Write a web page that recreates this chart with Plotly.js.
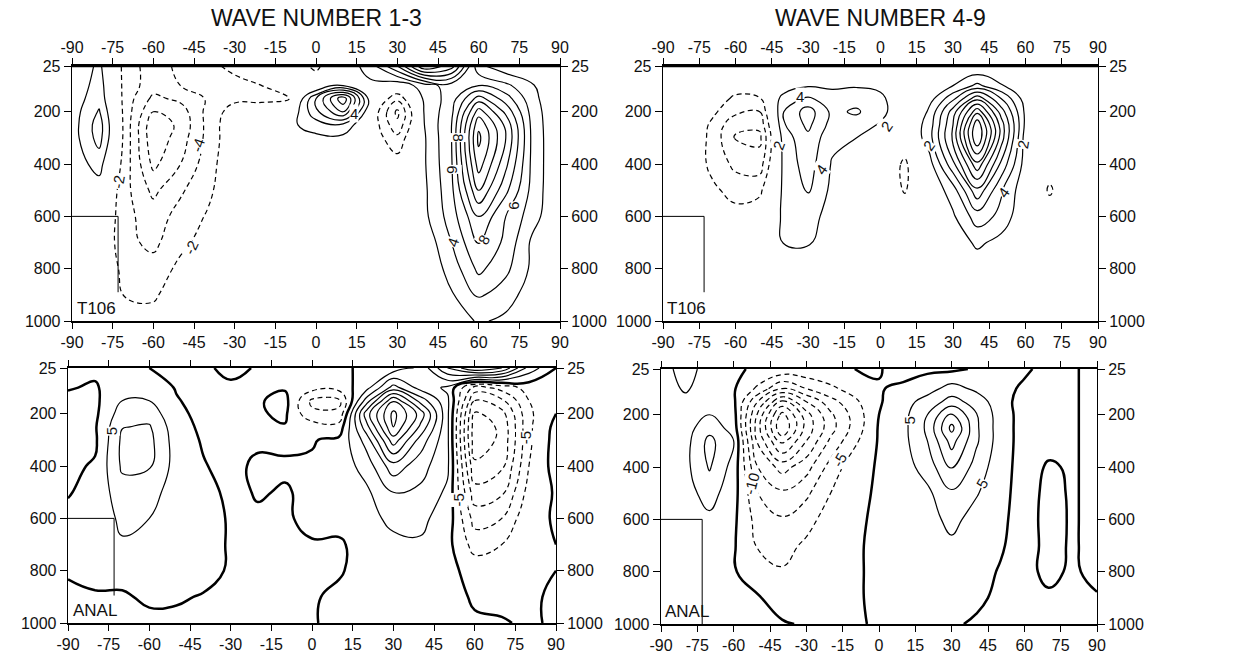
<!DOCTYPE html>
<html>
<head>
<meta charset="utf-8">
<script src="https://cdn.plot.ly/plotly-3.0.1.min.js"></script>
<style>
  html, body { margin: 0; padding: 0; background: #fff; }
  #chart { width: 1246px; height: 660px; }
</style>
</head>
<body>
<div id="chart"></div>
<script>
// ---------- data ----------
const lats = [-90,-80,-70,-60,-50,-40,-30,-20,-10,0,10,20,30,40,50,60,70,80,90];
const levels = [25,100,150,200,250,300,400,500,600,700,800,900,1000];
const latTickVals = [-90,-75,-60,-45,-30,-15,0,15,30,45,60,75,90];
const latTickText = ["-90","-75","-60","-45","-30","-15","0","15","30","45","60","75","90"];
const presTickVals = [25,200,400,600,800,1000];
const presTickText = ["25","200","400","600","800","1000"];
const panelTitles = ["WAVE NUMBER 1-3","WAVE NUMBER 4-9"];
const panelTags = ["T106","T106","ANAL","ANAL"];

// T106, wave number 1-3 (rows = levels, cols = lats)
const t106_wn13 = [
  [0, 2.5, -3, -5, -3.5, -2.5, -1.5, -0.5, -0.5, -2.5, 0.5, 3, 8, 16, 13, 2.5, 0.5, -1, 0],
  [0.3, 3, -3, -5, -4, -3.5, -2.6, -2.0, -1.5, -0.5, 2, 1.5, 0.5, 3, 5, 6, 4.5, 2.2, 0],
  [0.8, 3.3, -3, -6.5, -5.5, -3.8, -2.5, -2.4, -2.1, 6, 13.5, 1, -3.5, 2.4, 5, 11, 7, 2.6, 0],
  [1, 4.2, -3, -8, -7, -3.4, -1, -1, 0, 5.5, 10, 0, -6.5, 2.2, 5.5, 15, 9.5, 3, 0],
  [1, 5, -3, -9.5, -7.5, -3.4, -0.3, -0.2, 1.5, 3, 3.5, -0.3, -5.5, 2, 6, 17.5, 11.5, 3.2, 0],
  [1, 4.8, -3, -9.5, -7, -3.4, -0.3, 0, 0.8, 1.5, 1.5, -0.5, -3.5, 1.8, 6, 18.5, 12, 3.3, 0],
  [0.8, 2.8, -3.2, -8.5, -6, -2.9, -0.3, 0, 0, 0.3, 0, -0.3, -1, 1.8, 5.8, 17, 10.5, 3.3, 0],
  [0.3, 1, -3.5, -6.5, -4.3, -2.5, -0.2, 0, 0, 0, 0, 0, -0.3, 1.6, 5.5, 14, 8.5, 3.2, 0],
  [0, 0.3, -3.5, -5, -3.3, -1.8, -0.1, 0, 0, 0, 0, 0, 0, 1.5, 5, 10, 6, 2.8, 0],
  [0, 0, -3.5, -4.5, -2.5, -1.2, 0, 0, 0, 0, 0, 0, 0, 0.5, 4, 8.2, 5.5, 1.5, 0],
  [0, 0, -2.8, -3.2, -1.5, -0.7, 0, 0, 0, 0, 0, 0, 0, 0.3, 2.8, 6.5, 4.5, 1.5, 0],
  [0, 0, -2.2, -2.3, -0.8, -0.3, 0, 0, 0, 0, 0, 0, 0, 0.2, 1.8, 4.3, 3, 0.8, 0],
  [0, 0, -1, -1.2, -0.3, 0, 0, 0, 0, 0, 0, 0, 0, 0, 0.5, 2.3, 1.5, 0, 0]
];

// T106, wave number 4-9
const t106_wn49 = [
  [0, 0, 0, 0, 0, 0, 0, 0, 0, 0, 0, 0, 0, 0, 0, 0, 0, 0, 0],
  [0, 0, -0.3, -0.8, -0.5, 0.5, 1.8, 1.6, 1.8, 1.5, 0, 0.3, 2, 4.5, 2.2, 0, 0, 0, 0],
  [0, 0, -0.5, -2.5, -2.2, 3, 4.3, 3, 3.2, 2.5, 0.2, 1, 5.5, 11.5, 6, 1, 0, 0, 0],
  [0, 0, -1.5, -3.5, -4, 4, 7, 3.5, 4.3, 2.6, 0.5, 2.2, 9, 17.5, 9, 1.5, 0, 0, 0],
  [0, 0, -2.3, -5.5, -5.5, 3.8, 6.5, 3.2, 3, 1.8, 0, 2.8, 10, 21.5, 11, 1.5, 0, 0, 0],
  [0, 0, -2.5, -6.2, -6.5, 3, 5.5, 2.6, 2, 1, -0.5, 3, 10.5, 22, 11, 1, 0, 0, 0],
  [0, 0, -2.5, -4.5, -5, 2.6, 5, 1.8, 0.8, 0, -2.4, 1, 7.5, 15.5, 7.5, 1, -1, 0, 0],
  [0, 0, -1.5, -2.8, -2.5, 2.5, 4.2, 1.5, 0.2, 0, -2.2, 0.3, 3, 9.5, 4.2, 0.5, -2.3, 0, 0],
  [0, 0, -0.3, -1.2, -0.5, 2.4, 3.2, 0.8, 0, 0, -0.5, 0, 1.7, 5, 3.5, 0, -0.8, 0, 0],
  [0, 0, 0, -0.2, 0, 2.1, 2.3, 0.2, 0, 0, 0, 0, 0.3, 2.5, 1.2, 0, 0, 0, 0],
  [0, 0, 0, 0, 0, 0.3, 0.5, 0, 0, 0, 0, 0, 0, 0.5, 0, 0, 0, 0, 0],
  [0, 0, 0, 0, 0, 0, 0, 0, 0, 0, 0, 0, 0, 0, 0, 0, 0, 0, 0],
  [0, 0, 0, 0, 0, 0, 0, 0, 0, 0, 0, 0, 0, 0, 0, 0, 0, 0, 0]
];

// Analysis, wave number 1-3
const anal_wn13 = [
  [1, 1, 2, 0, -1, -1, 1.5, -0.5, -1, -1, -1, 1, 2, 6, 20, 30, 25, 8, 0],
  [0.3, -0.5, 3, 2.5, -0.3, -1.5, -1, -0.5, -0.5, -3, -3, 3, 17, 8, 4, -12, -8, -3, 0],
  [-1, -1, 5, 5, 0.3, -1.5, -1.5, -0.5, 1.5, -11, -11, 12, 34.5, 18, 6, -20, -16, -5, 0],
  [-1.5, -1, 7.5, 8, 1, -1.2, -1.5, -0.5, 0.8, -9, -9, 22.5, 41.5, 28, 6, -26, -22, -6, 0],
  [-1.5, -0.5, 9.8, 10.5, 2, -1, -1.5, -0.8, -0.3, -2, -3, 18, 40, 24, 6, -28, -24, -6, 1.5],
  [-1.5, -0.8, 11, 11.5, 2.5, -0.5, -1.5, -1, -0.8, -0.3, 1, 12, 33, 18, 6, -28, -24, -6, 2],
  [-1, 0.5, 10.8, 10.5, 3, 0.3, -1.5, 1, 0.5, 0.5, 2, 7, 18, 12, 6, -24, -21, -5, 2],
  [-0.3, 1.5, 8, 7, 2.5, 1.5, -1, 0.3, -0.3, 0.8, 2, 4, 10, 9, 4, -18, -16, -3, 0.5],
  [1, 2, 6, 5, 2.5, 2, -0.5, -0.5, -0.5, 1, 2, 3, 6.5, 6, 3, -12, -10, -1, 0.3],
  [1, 2, 4.5, 3.5, 2, 2, -0.5, -0.5, -0.5, -0.3, -0.8, 2.5, 3.5, 4.5, 1.5, -7, -5, -0.5, 0],
  [0.5, 1.5, 1.5, 2, 1.5, 1.5, -0.5, -0.5, -0.5, -1, -0.5, 2, 2, 2, 1.5, -2, -1.5, -0.5, 0],
  [-1, -0.5, -0.5, 0.7, 0.5, -0.3, -1, -1, -1, -0.5, 1, 2, 1.5, 1.5, 1.5, -0.5, -1, -0.5, 0.5],
  [-1.5, -1, -1, -1, -1, -1, -1, -1, -1, -0.3, 1, 1.5, 1, 1, 1, 0.5, 0.3, -0.5, 0.5]
];

// Analysis, wave number 4-9
const anal_wn49 = [
  [3, 7, 3, 0.5, -0.5, -1, -1, -1, 0, 0.5, -3, -1, -1, 0.5, 1, 0.5, -1, -0.5, 1.5],
  [3, 5.5, 3, 0.5, -6, -15, -10, -6, -3, -0.5, 1.5, 3, 7, 4, 1, -0.5, -1.5, -0.5, 1.5],
  [2, 4, 3.5, 1, -15, -31, -20, -12, -6, -0.5, 3, 7, 12, 8, 2, -2, -1.5, -0.5, 1.5],
  [2, 3, 5, 2, -21, -42, -27, -16, -8, 0, 3.5, 10, 21, 10.5, 2.5, -2, -1.5, -0.5, 1.5],
  [2, 3, 8, 3, -23, -45, -28, -17, -8, 0.5, 3.5, 11, 26.5, 11, 2.5, -2, -1.5, -0.5, 1.5],
  [2, 3, 11.5, 5, -21, -37, -25, -14, -6, 0.5, 3.5, 10, 22, 11, 2.5, -2, -1.5, -0.5, 1.5],
  [2, 3.5, 10.5, 3, -15, -22, -17, -8, -2, 0.5, 3, 7, 16, 8, 2, -2, 0.5, -0.5, 1.5],
  [2, 3, 7, 2, -10, -14, -11, -5, -1, 0.5, 2, 4, 9, 5.5, 1.5, -2, 1.2, -0.5, 1.5],
  [2, 3, 4, 1, -7, -9.5, -7, -2.5, -0.5, 0.5, 2, 3, 6.5, 3, 1, -2, 1.5, -0.5, 1.5],
  [2, 2.5, 3, 0.5, -5.5, -7, -4, -1, -0.3, 0.5, 2, 2.5, 4, 2, 0.5, -2, 1.3, -0.5, 1.5],
  [2, 2.5, 2.5, 0.3, -2, -4.5, -1.5, -0.5, -0.3, 0.5, 2, 2, 3, 1.5, -0.3, -1, 0.8, -0.5, 1],
  [2, 2, 2, 0.5, 0.3, -1.5, -0.5, -0.3, -0.3, 0.5, 1.5, 1.5, 2, 0.5, -0.5, -1, -0.5, -0.5, -0.3],
  [2, 2, 2, 1, 1, 0.3, -0.3, -0.3, -0.3, 0.3, 1, 1, 0.3, -0.3, -0.5, -1, -0.5, -0.5, -0.3]
];

// contour label texts (text, lat, pressure, angle) per panel
const labelsA = [["4",14,205,0],["-2",-73,470,-80],["-4",-43.5,330,-70],["-2",-46,720,-65],["8",52.5,300,90],["6",50.5,420,90],["4",50.5,700,-70],["8",62,690,-60],["6",73,560,-90]];
const labelsB = [["4",-33.5,140,0],["2",-42,330,-70],["4",-24.5,420,-55],["2",2.5,258,-55],["2",20,330,-55],["2",59,325,-80],["4",51,510,-55]];
const labelsC = [["5",-74,265,-90],["-5",54,530,-90],["-5",78.5,290,-90]];
const labelsD = [["5",12.5,221,-90],["5",42.5,463,-60],["-5",-16.5,374,-60],["-10",-52.5,463,-75]];

// ---------- drawing ----------
const black = [[0,'#000'],[1,'#000']];
function contourSet(z, xa, ya, step, withZero) {
  const base = {type:'contour', x: lats, y: levels, z: z, xaxis: xa, yaxis: ya,
    showscale:false, hoverinfo:'skip', colorscale: black, autocontour:false};
  const out = [];
  out.push(Object.assign({}, base, {
    contours:{coloring:'lines', start: step, end: 100, size: step, showlabels:false},
    line:{width:1.2, smoothing:1.3, dash:'solid'}}));
  out.push(Object.assign({}, base, {
    contours:{coloring:'lines', start: -100, end: -step, size: step, showlabels:false},
    line:{width:1.2, smoothing:1.3, dash:'5px,3.5px'}}));
  if (withZero) {
    out.push(Object.assign({}, base, {
      contours:{coloring:'lines', start: 0, end: 0, size: step, showlabels:false},
      line:{width:2.5, smoothing:1.3, dash:'solid'}}));
  }
  return out;
}

const data = [].concat(
  contourSet(t106_wn13, 'x', 'y', 2, false),
  contourSet(t106_wn49, 'x2', 'y2', 2, false),
  contourSet(anal_wn13, 'x3', 'y3', 5, true),
  contourSet(anal_wn49, 'x4', 'y4', 5, true)
);

const W = 1246, H = 660;
const px = (a, b) => [a / W, b / W];
const py = (top, bottom) => [1 - bottom / H, 1 - top / H];

const dom = {
  A: {x: px(72, 560), y: py(66, 321)},
  B: {x: px(663, 1098), y: py(66, 321)},
  C: {x: px(68, 556), y: py(368, 623)},
  D: {x: px(661, 1097), y: py(369, 624)}
};

const tickFont = {family: 'Liberation Sans, Arial, sans-serif', size: 16, color: '#111'};
function xAx(domain, anchor, side, mirror, extra) {
  return Object.assign({domain: domain, anchor: anchor, side: side, range: [-90, 90],
    tickmode: 'array', tickvals: latTickVals, ticktext: latTickText,
    ticks: 'outside', ticklen: 6, tickwidth: 1, tickcolor: '#000',
    showline: true, linecolor: '#000', linewidth: 1.6, mirror: mirror,
    showgrid: false, zeroline: false, tickfont: tickFont, fixedrange: true}, extra || {});
}
function yAx(domain, anchor, side, mirror, extra) {
  return Object.assign({domain: domain, anchor: anchor, side: side, range: [1000, 25],
    tickmode: 'array', tickvals: presTickVals, ticktext: presTickText,
    ticks: 'outside', ticklen: 7, tickwidth: 1, tickcolor: '#000',
    showline: true, linecolor: '#000', linewidth: 1.3, mirror: mirror,
    showgrid: false, zeroline: false, tickfont: tickFont, fixedrange: true}, extra || {});
}

const layout = {
  width: W, height: H, margin: {l: 0, r: 0, t: 0, b: 0},
  paper_bgcolor: '#fff', plot_bgcolor: '#fff', showlegend: false,
  xaxis:  xAx(dom.A.x, 'y', 'bottom', 'ticks'),
  yaxis:  yAx(dom.A.y, 'x', 'left', 'ticks'),
  xaxis2: xAx(dom.B.x, 'y2', 'bottom', 'ticks'),
  yaxis2: yAx(dom.B.y, 'x2', 'left', 'ticks'),
  xaxis3: xAx(dom.C.x, 'y3', 'bottom', 'ticks'),
  yaxis3: yAx(dom.C.y, 'x3', 'left', 'ticks'),
  xaxis4: xAx(dom.D.x, 'y4', 'bottom', 'ticks'),
  yaxis4: yAx(dom.D.y, 'x4', 'left', 'ticks'),
  // top labels of upper panels
  xaxis5: xAx(dom.A.x, 'y', 'top', false, {overlaying: 'x', showline: false}),
  xaxis6: xAx(dom.B.x, 'y2', 'top', false, {overlaying: 'x2', showline: false}),
  // right-hand pressure labels
  yaxis5: yAx(dom.A.y, 'x', 'right', false, {overlaying: 'y', showline: false}),
  yaxis6: yAx(dom.B.y, 'x2', 'right', false, {overlaying: 'y2', showline: false}),
  yaxis7: yAx(dom.C.y, 'x3', 'right', false, {overlaying: 'y3', showline: false}),
  yaxis8: yAx(dom.D.y, 'x4', 'right', false, {overlaying: 'y4', showline: false}),
  annotations: [],
  shapes: []
};

// invisible traces so the overlay axes render
data.push({type:'scatter', x:[-90], y:[25], xaxis:'x5', yaxis:'y5', mode:'markers', marker:{opacity:0}, hoverinfo:'skip'});
data.push({type:'scatter', x:[-90], y:[25], xaxis:'x6', yaxis:'y6', mode:'markers', marker:{opacity:0}, hoverinfo:'skip'});
data.push({type:'scatter', x:[-90], y:[25], xaxis:'x3', yaxis:'y7', mode:'markers', marker:{opacity:0}, hoverinfo:'skip'});
data.push({type:'scatter', x:[-90], y:[25], xaxis:'x4', yaxis:'y8', mode:'markers', marker:{opacity:0}, hoverinfo:'skip'});

// titles
const titleFont = {family: 'Liberation Sans, Arial, sans-serif', size: 23, color: '#111'};
layout.annotations.push({text: panelTitles[0], xref: 'paper', yref: 'paper', xanchor: 'center',
  x: (dom.A.x[0] + dom.A.x[1]) / 2, y: 1 - 18 / H, showarrow: false, font: titleFont, yanchor: 'middle'});
layout.annotations.push({text: panelTitles[1], xref: 'paper', yref: 'paper', xanchor: 'center',
  x: (dom.B.x[0] + dom.B.x[1]) / 2, y: 1 - 18 / H, showarrow: false, font: titleFont, yanchor: 'middle'});

// heavier top frame on the upper panels
[['x','y'],['x2','y2']].forEach(p => {
  layout.shapes.push({type: 'line', xref: p[0], yref: p[1], x0: -90, x1: 90, y0: 25, y1: 25, line: {color: '#000', width: 2.6}});
});

// corner boxes and tags
const axesPairs = [['x','y'],['x2','y2'],['x3','y3'],['x4','y4']];
const boxBottom = [890, 890, 895, 1000];
axesPairs.forEach((p, i) => {
  layout.shapes.push({type: 'line', xref: p[0], yref: p[1], x0: -90, x1: -73, y0: 600, y1: 600, line: {color: '#000', width: 1}});
  layout.shapes.push({type: 'line', xref: p[0], yref: p[1], x0: -73, x1: -73, y0: 600, y1: boxBottom[i], line: {color: '#000', width: 1}});
  layout.annotations.push({text: panelTags[i], xref: p[0], yref: p[1], x: -89, y: 995,
    xanchor: 'left', yanchor: 'bottom', showarrow: false,
    font: {family: 'Liberation Sans, Arial, sans-serif', size: 17, color: '#111'}});
});

// contour labels
const labelFont = {family: 'Liberation Sans, Arial, sans-serif', size: 15, color: '#111'};
[[labelsA,'x','y'],[labelsB,'x2','y2'],[labelsC,'x3','y3'],[labelsD,'x4','y4']].forEach(set => {
  set[0].forEach(l => {
    layout.annotations.push({text: l[0], xref: set[1], yref: set[2], x: l[1], y: l[2],
      showarrow: false, textangle: l[3], bgcolor: '#fff', borderpad: 0, font: labelFont});
  });
});

Plotly.newPlot('chart', data, layout, {staticPlot: true, displayModeBar: false});
</script>
</body>
</html>
